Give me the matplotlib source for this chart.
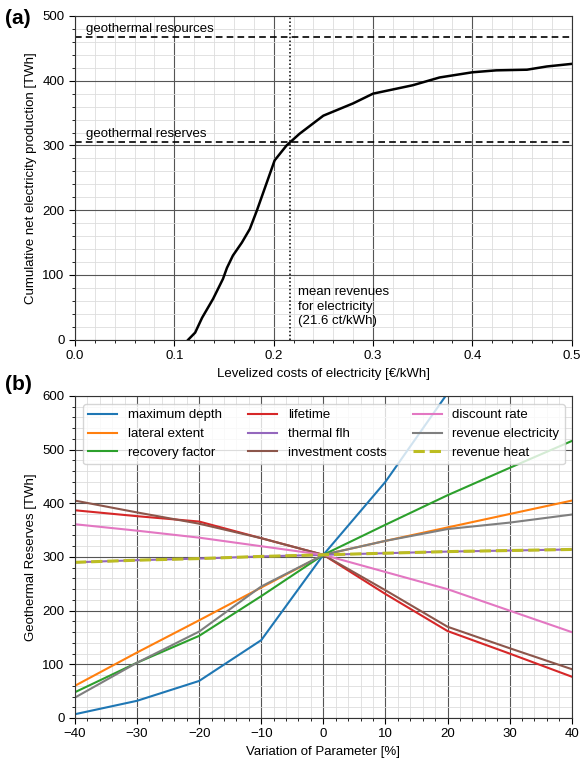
import numpy as np
import matplotlib
matplotlib.use("Agg")
import matplotlib.pyplot as plt
from matplotlib.ticker import MultipleLocator

plt.rcParams["font.family"] = ["Liberation Sans", "DejaVu Sans"]
plt.rcParams["font.size"] = 9.5

# --- (a) cumulative supply curve ---
lcoe = [0.114, 0.121, 0.128, 0.139, 0.149, 0.153, 0.159, 0.168, 0.176, 0.183,
        0.189, 0.201, 0.213, 0.226, 0.250, 0.280, 0.300, 0.340, 0.367, 0.400,
        0.424, 0.455, 0.475, 0.500]
cum_prod = [0, 11, 34, 63, 94, 111, 130, 150, 171, 199,
            225, 277, 300, 318, 346, 365, 380, 393, 405, 413,
            416, 417, 422, 426]
resources = 467
reserves = 305
mean_revenue = 0.216

# --- (b) sensitivity ---
variation = [-40, -30, -20, -10, 0, 10, 20, 30, 40]
sens = {
    "maximum depth":       [7, 32, 69, 145, 304, 440, 605, 770, 930],
    "lateral extent":      [60, 122, 182, 243, 304, 330, 355, 380, 405],
    "recovery factor":     [48, 103, 153, 227, 304, 360, 415, 466, 516],
    "lifetime":            [387, 376, 366, 335, 304, 231, 162, 120, 77],
    "thermal flh":         [290, 294, 297, 301, 304, 307, 310, 312, 314],
    "investment costs":    [405, 383, 362, 335, 304, 238, 170, 130, 91],
    "discount rate":       [361, 349, 336, 320, 304, 272, 240, 200, 160],
    "revenue electricity": [38, 103, 161, 245, 304, 330, 352, 364, 379],
    "revenue heat":        [290, 294, 297, 301, 304, 307, 310, 312, 314],
}
colors = {
    "maximum depth": "tab:blue", "lateral extent": "tab:orange",
    "recovery factor": "tab:green", "lifetime": "tab:red",
    "thermal flh": "tab:purple", "investment costs": "tab:brown",
    "discount rate": "tab:pink", "revenue electricity": "tab:gray",
    "revenue heat": "tab:olive",
}


def style_grid(ax):
    ax.grid(which="major", color="#555555", lw=0.8)
    ax.grid(which="minor", color="#dddddd", lw=0.6)
    ax.set_axisbelow(True)
    ax.tick_params(which="major", direction="out", length=4, width=0.8)
    ax.tick_params(which="minor", direction="out", length=2.5, width=0.6)
    for s in ax.spines.values():
        s.set_color("#333333")


fig = plt.figure(figsize=(5.81, 7.6), dpi=100)
ax1 = fig.add_axes([0.129, 0.553, 0.855, 0.426])
ax2 = fig.add_axes([0.129, 0.0553, 0.855, 0.4237])

# panel a
ax1.plot(lcoe, cum_prod, color="black", lw=1.8)
ax1.axhline(resources, color="black", ls=(0, (4, 2.5)), lw=1.2)
ax1.axhline(reserves, color="black", ls=(0, (4, 2.5)), lw=1.2)
ax1.axvline(mean_revenue, color="black", ls=(0, (1, 1.5)), lw=1.1)
ax1.text(0.011, resources + 3, "geothermal resources", va="bottom")
ax1.text(0.011, reserves + 3, "geothermal reserves", va="bottom")
ax1.text(0.225, 51, "mean revenues\nfor electricity\n(21.6 ct/kWh)", va="center",
         linespacing=1.3)
ax1.set_xlim(0, 0.5)
ax1.set_ylim(0, 500)
ax1.xaxis.set_major_locator(MultipleLocator(0.1))
ax1.xaxis.set_minor_locator(MultipleLocator(0.02))
ax1.yaxis.set_major_locator(MultipleLocator(100))
ax1.yaxis.set_minor_locator(MultipleLocator(20))
ax1.set_xlabel("Levelized costs of electricity [€/kWh]")
ax1.set_ylabel("Cumulative net electricity production [TWh]")
style_grid(ax1)

# panel b
for name, vals in sens.items():
    ls = "--" if name == "revenue heat" else "-"
    lw = 2.2 if name == "revenue heat" else 1.5
    ax2.plot(variation, vals, color=colors[name], ls=ls, lw=lw, label=name)
ax2.set_xlim(-40, 40)
ax2.set_ylim(0, 600)
ax2.xaxis.set_major_locator(MultipleLocator(10))
ax2.xaxis.set_minor_locator(MultipleLocator(2))
ax2.yaxis.set_major_locator(MultipleLocator(100))
ax2.yaxis.set_minor_locator(MultipleLocator(20))
ax2.set_xlabel("Variation of Parameter [%]")
ax2.set_ylabel("Geothermal Reserves [TWh]")
style_grid(ax2)
ax2.legend(ncol=3, loc="upper left", fontsize=9.5, framealpha=0.8,
           borderaxespad=0.6, handlelength=2.2, columnspacing=2.0)

fig.text(0.008, 0.975, "(a)", fontsize=15, fontweight="bold", va="center")
fig.text(0.008, 0.494, "(b)", fontsize=15, fontweight="bold", va="center")

fig.savefig("out.png", dpi=100)
